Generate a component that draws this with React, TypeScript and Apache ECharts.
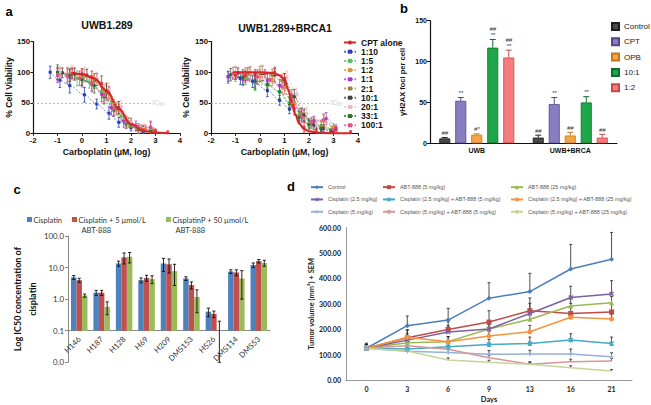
import React, { useEffect, useRef } from "react";
import * as echarts from "echarts";

const FONT = "'Liberation Sans', Arial, sans-serif";
const FONT_CD = "Lato, 'Liberation Sans', sans-serif";

// ===== Panel a: dose-response (x = log carboplatin µM, y = % cell viability) =====
const A_RATIOS = ["1:10", "1:5", "1:2", "1:1", "2:1", "10:1", "20:1", "33:1", "100:1"];
const A_CPT = "CPT alone";
const IC50_LEVEL = 50;
const IC50_X_START = -2;
const IC50_X_END = 2.8;

// UWB1.289
const AL_X = [
  [-1.3, -0.9, -0.5, 0.1, 0.6, 1.1, 1.5, 2.0, 2.5],
  [-1.0, -0.6, -0.2, 0.3, 0.8, 1.2, 1.6, 2.0, 2.5],
  [-1.0, -0.5, 0.0, 0.5, 0.9, 1.3, 1.8, 2.2, 2.6],
  [-1.0, -0.5, 0.0, 0.4, 0.8, 1.2, 1.7, 2.2, 2.8],
  [-0.9, -0.4, 0.1, 0.5, 1.0, 1.4, 1.9, 2.4, 2.9],
  [-0.8, -0.3, 0.2, 0.6, 1.0, 1.5, 2.0, 2.5, 3.0],
  [-0.9, -0.4, 0.1, 0.6, 1.1, 1.6, 2.0, 2.5, 3.0],
  [-1.0, -0.5, 0.0, 0.5, 0.9, 1.3, 1.8, 2.3, 2.8],
  [-1.0, -0.6, -0.1, 0.4, 0.9, 1.3, 1.8, 2.3, 2.8],
];
const AL_Y = [
  [100, 87, 78, 63, 48, 33, 18, 10, 3],
  [98, 96, 90, 84, 68, 50, 28, 12, 5],
  [97, 97, 92, 85, 70, 45, 20, 10, 8],
  [95, 92, 88, 80, 64, 42, 20, 12, 10],
  [99, 98, 94, 86, 66, 40, 18, 8, 5],
  [99, 97, 95, 88, 70, 42, 16, 6, 3],
  [100, 99, 96, 90, 72, 44, 18, 8, 3],
  [100, 95, 88, 78, 60, 38, 16, 6, 3],
  [96, 94, 90, 82, 62, 40, 18, 8, 10],
];
const AL_ERR = [
  [10, 12, 12, 12, 8, 10, 8, 6, 3],
  [10, 12, 12, 10, 10, 10, 8, 6, 4],
  [8, 10, 12, 12, 10, 10, 8, 6, 6],
  [12, 12, 12, 12, 12, 12, 10, 8, 10],
  [8, 10, 10, 12, 12, 10, 8, 6, 4],
  [8, 10, 10, 10, 12, 10, 8, 6, 3],
  [10, 12, 12, 10, 10, 10, 8, 6, 3],
  [12, 10, 10, 12, 12, 10, 8, 6, 3],
  [10, 12, 12, 12, 12, 12, 10, 8, 8],
];
const ALC_X = [-0.4, 0.0, 0.5, 1.0, 1.5, 2.0, 2.5, 3.0, 3.5];
const ALC_Y = [99, 97, 90, 70, 40, 15, 4, 1, 0];
const ALP_X = [-0.4, 0.0, 0.4, 0.8, 1.1, 1.5, 2.0, 2.5, 3.0, 3.5];
const ALP_Y = [98, 96, 92, 82, 66, 40, 14, 6, 3, 1];
const ALP_ERR = [8, 10, 10, 12, 10, 8, 6, 6, 4, 3];

// UWB1.289+BRCA1
const AR_X = [
  [-1.3, -0.8, -0.3, 0.3, 0.8, 1.2, 1.6, 2.0, 2.5, 2.9],
  [-1.0, -0.6, -0.2, 0.3, 0.8, 1.2, 1.6, 2.0, 2.5, 2.9],
  [-1.0, -0.5, 0.0, 0.5, 1.0, 1.4, 1.8, 2.2, 2.6, 3.0],
  [-1.3, -0.7, -0.2, 0.3, 0.8, 1.3, 1.7, 2.2, 2.7, 3.1],
  [-1.0, -0.5, 0.0, 0.5, 0.9, 1.3, 1.7, 2.1, 2.5, 3.0],
  [-0.9, -0.4, 0.1, 0.6, 1.0, 1.4, 1.8, 2.2, 2.6, 3.0],
  [-1.0, -0.4, 0.1, 0.6, 1.1, 1.5, 1.9, 2.3, 2.7, 3.1],
  [-1.2, -0.7, -0.2, 0.3, 0.8, 1.2, 1.6, 2.0, 2.5, 2.9],
  [-1.1, -0.6, -0.1, 0.4, 0.9, 1.3, 1.7, 2.1, 2.6, 3.0],
];
const AR_Y = [
  [93, 90, 85, 70, 54, 40, 28, 15, 7, 3],
  [97, 90, 82, 78, 68, 50, 30, 16, 12, 6],
  [99, 96, 94, 88, 74, 50, 28, 18, 20, 10],
  [92, 88, 84, 86, 78, 54, 30, 20, 24, 8],
  [98, 98, 98, 95, 86, 60, 32, 16, 12, 5],
  [99, 99, 98, 96, 88, 60, 30, 14, 8, 4],
  [100, 100, 100, 98, 92, 64, 32, 15, 8, 3],
  [96, 92, 86, 80, 68, 48, 26, 14, 8, 4],
  [98, 95, 92, 88, 76, 52, 28, 18, 22, 6],
];
const AR_ERR = [
  [8, 10, 10, 10, 8, 8, 8, 6, 4, 3],
  [12, 10, 12, 10, 12, 10, 10, 8, 8, 6],
  [10, 10, 10, 10, 10, 10, 10, 8, 10, 6],
  [10, 10, 12, 12, 10, 10, 10, 8, 10, 6],
  [10, 10, 12, 10, 10, 12, 10, 8, 8, 4],
  [8, 10, 12, 12, 10, 12, 10, 8, 6, 4],
  [10, 10, 12, 12, 10, 10, 10, 8, 6, 3],
  [10, 12, 12, 10, 12, 10, 10, 8, 6, 4],
  [10, 12, 12, 10, 10, 10, 10, 8, 10, 6],
];
const ARC_X = [-1.1, 0.0, 0.5, 0.8, 1.0, 1.15, 1.3, 1.45, 1.6, 1.8, 2.0, 2.5, 3.0, 3.7];
const ARC_Y = [100, 100, 99, 95, 88, 72, 50, 30, 16, 7, 3, 0.5, 0, 0];
const ARP_X = [-1.0, -0.6, -0.2, 0.2, 0.6, 1.0, 1.4, 1.8, 2.3, 3.1, 3.7];
const ARP_Y = [95, 94, 96, 98, 100, 90, 40, 10, 4, 5, 2];
const ARP_ERR = [6, 8, 8, 6, 6, 8, 10, 8, 4, 6, 2];

// ===== Panel b: γH2AX foci per cell =====
const B_GROUPS = ["UWB", "UWB+BRCA"];
const B_SERIES = ["Control", "CPT", "OPB", "10:1", "1:2"];
const B_VALUES = [
  [6, 7],
  [52, 48],
  [10.5, 9.5],
  [117, 50],
  [105, 7],
];
const B_ERR = [
  [1, 3],
  [4, 8],
  [1, 4],
  [10, 7],
  [9, 4],
];
const B_ANNOT = [
  ["##", "##"],
  ["**", "**"],
  ["#*", "##"],
  ["##\n**", "**"],
  ["##\n**", "##"],
];

// ===== Panel c: IC50 of cisplatin =====
const C_CATS = ["H146", "H187", "H128", "H69", "H209", "DMS153", "H526", "DMS114", "DMS53"];
const C_SERIES = ["Cisplatin", "Cisplatin + 5 µmol/L", "CisplatinP + 50 µmol/L"];
const C_SERIES_LINE2 = ["", "ABT-888", "ABT-888"];
const C_VALUES = [
  [4.9, 1.6, 13.5, 4.0, 13.5, 4.5, 0.4, 7.5, 12],
  [4.0, 1.6, 21, 4.7, 12.7, 2.8, 0.34, 7.0, 16],
  [1.3, 0.57, 22, 4.3, 7.7, 1.17, 0.1, 4.5, 14],
];
const C_ERR = [
  [0.7, 0.3, 2.5, 0.7, 6, 0.6, 0.12, 1.0, 2],
  [0.6, 0.3, 8, 1.0, 6, 0.7, 0.08, 1.5, 2],
  [0.15, 0.25, 8, 1.2, 5, 0.8, 0.1, 3.5, 3],
];
const C_TICK_FLOOR = 0.01;

// ===== Panel d: tumor volume =====
const D_DAYS = ["0", "3", "6", "9", "13", "16", "21"];
const D_SERIES = [
  "Control",
  "ABT-888 (5 mg/kg)",
  "ABT-888 (25 mg/kg)",
  "Cisplatin (2.5 mg/kg)",
  "Cisplatin (2.5 mg/kg) + ABT-888 (5 mg/kg)",
  "Cisplatin (2.5 mg/kg) + ABT-888 (25 mg/kg)",
  "Cisplatin (5 mg/kg)",
  "Cisplatin (5 mg/kg) + ABT-888 (5 mg/kg)",
  "Cisplatin (5 mg/kg) + ABT-888 (25 mg/kg)",
];
const D_VALUES = [
  [125, 214, 236, 322, 348, 437, 475],
  [125, 166, 199, 228, 273, 262, 268],
  [125, 147, 151, 201, 239, 291, 304],
  [125, 157, 189, 201, 262, 325, 339],
  [125, 122, 131, 140, 144, 157, 144],
  [125, 168, 151, 173, 190, 247, 240],
  [125, 113, 108, 101, 102, 102, 92],
  [125, 135, 121, 88, 62, 72, 75],
  [125, 114, 79, 70, 62, 48, 35],
];
const D_ERR = [
  [20, 38, 46, 61, 72, 97, 106],
  [15, 30, 30, 45, 50, 40, 30],
  [15, 25, 20, 20, 25, 30, 25],
  [15, 25, 25, 20, 40, 44, 52],
  [15, 15, 20, 20, 25, 25, 25],
  [15, 30, 20, 20, 25, 20, 20],
  [15, 10, 12, 15, 15, 20, 15],
  [15, 10, 10, 10, 10, 10, 10],
  [15, 5, 8, 8, 6, 8, 6],
];

// ===== Styles =====
const A_COLORS = ["#2a3cb4", "#55c255", "#e09236", "#a03cc8", "#9c8440", "#404040", "#eeb8c8", "#237a28", "#e2508c"];
const A_RED = "#d8262a";
const B_COLORS = ["#4b4848", "#8a7cc0", "#f6a440", "#1ea74a", "#f77c7c"];
const B_BORDERS = ["#1e1e1e", "#55468a", "#c47618", "#0f6e2c", "#c84848"];
const B_BAR_W = 11;
const B_BAR_GAP = 5;
const C_COLORS = ["#4f81bd", "#c0504d", "#9bbb59"];
const C_BAR_W = 5.5;
const C_GRID_H = 126.3;
const D_COLORS = ["#4a7ebb", "#be4b48", "#98b954", "#7d60a0", "#46aac4", "#f59440", "#94b2d6", "#d99694", "#c3d69b"];
const SYM_X = "path://M0,2L2,0L5,3L8,0L10,2L7,5L10,8L8,10L5,7L2,10L0,8L3,5Z";
const SYM_STAR = "path://M0,2L2,0L5,3L8,0L10,2L7,5L10,8L8,10L5,7L2,10L0,8L3,5ZM4,0L6,0L6,10L4,10Z";
const SYM_PLUS = "path://M4,0L6,0L6,4L10,4L10,6L6,6L6,10L4,10L4,6L0,6L0,4L4,4Z";
const D_SYMBOLS = ["diamond", "rect", "triangle", SYM_X, SYM_STAR, "circle", SYM_PLUS, "none", "none"];
const D_LEGEND_LEFT = [310, 382, 510];

const cTf = (v: number) => Math.log10(Math.max(v, C_TICK_FLOOR)) + 1;

function errLines(x: number, yTop: number, yBot: number, color: string, half: number, lw: number, topCap: boolean, botCap: boolean) {
  const style = { stroke: color, lineWidth: lw };
  const ch: any[] = [{ type: "line", shape: { x1: x, y1: yTop, x2: x, y2: yBot }, style }];
  if (topCap) ch.push({ type: "line", shape: { x1: x - half, y1: yTop, x2: x + half, y2: yTop }, style });
  if (botCap) ch.push({ type: "line", shape: { x1: x - half, y1: yBot, x2: x + half, y2: yBot }, style });
  return ch;
}

function buildOption() {
  const txt = (size: number, weight: any = "bold", family = FONT, color = "#111") => ({
    fontFamily: family,
    fontSize: size,
    fontWeight: weight,
    color,
  });

  const aX = (gi: number) => ({
    type: "value",
    gridIndex: gi,
    min: -2,
    max: 4,
    interval: 1,
    name: "Carboplatin (µM, log)",
    nameLocation: "middle",
    nameGap: 14,
    nameTextStyle: txt(8.8),
    axisLine: { show: true, onZero: false, lineStyle: { color: "#111", width: 1.2 } },
    axisTick: { show: true, length: 2.5, lineStyle: { color: "#111", width: 1 } },
    axisLabel: { ...txt(7.8), margin: 3 },
    splitLine: { show: false },
  });
  const aY = (gi: number, gap: number) => ({
    type: "value",
    gridIndex: gi,
    min: 0,
    max: 150,
    interval: 50,
    name: "% Cell Viability",
    nameLocation: "middle",
    nameGap: gap,
    nameTextStyle: txt(8.5),
    axisLine: { show: true, onZero: false, lineStyle: { color: "#111", width: 1.2 } },
    axisTick: { show: true, length: 2.5, lineStyle: { color: "#111", width: 1 } },
    axisLabel: { ...txt(7.8), margin: 3 },
    splitLine: { show: false },
  });

  const series: any[] = [];

  // ---- panel a
  const aPanels = [
    { X: AL_X, Y: AL_Y, E: AL_ERR, CX: ALC_X, CY: ALC_Y, PX: ALP_X, PY: ALP_Y, PE: ALP_ERR },
    { X: AR_X, Y: AR_Y, E: AR_ERR, CX: ARC_X, CY: ARC_Y, PX: ARP_X, PY: ARP_Y, PE: ARP_ERR },
  ];
  aPanels.forEach((p, gi) => {
    const errData: number[][] = [];
    A_RATIOS.forEach((_, k) => p.X[k].forEach((x, i) => errData.push([x, p.Y[k][i], p.E[k][i], k])));
    p.PX.forEach((x, i) => errData.push([x, p.PY[i], p.PE[i], 9]));
    series.push({
      type: "custom",
      name: "err-a" + gi,
      xAxisIndex: gi,
      yAxisIndex: gi,
      silent: true,
      z: 2,
      encode: { x: 0, y: 1 },
      data: errData,
      renderItem: (params: any, api: any) => {
        const x = api.value(0), y = api.value(1), e = api.value(2), ci = api.value(3);
        const t = api.coord([x, Math.min(150, y + e)]);
        const b = api.coord([x, Math.max(0, y - e)]);
        const c = ci < 9 ? A_COLORS[ci] : A_RED;
        return { type: "group", children: errLines(t[0], t[1], b[1], c, 1.3, 0.8, true, true) };
      },
    });
    A_RATIOS.forEach((name, k) => {
      series.push({
        type: "line",
        name,
        xAxisIndex: gi,
        yAxisIndex: gi,
        silent: true,
        z: 3,
        smooth: 0.35,
        smoothMonotone: "x",
        symbol: "rect",
        symbolSize: 3,
        data: p.X[k].map((x, i) => [x, p.Y[k][i]]),
        lineStyle: { color: A_COLORS[k], width: 0.8, type: [2, 1.5], opacity: 0.75 },
        itemStyle: { color: A_COLORS[k] },
      });
    });
    series.push({
      type: "line",
      name: A_CPT,
      xAxisIndex: gi,
      yAxisIndex: gi,
      silent: true,
      z: 4,
      smooth: 0.4,
      smoothMonotone: "x",
      symbol: "none",
      data: p.CX.map((x, i) => [x, p.CY[i]]),
      lineStyle: { color: A_RED, width: 2.2 },
      itemStyle: { color: A_RED },
      markLine: {
        silent: true,
        symbol: "none",
        lineStyle: { color: "#aaaaaa", type: [2, 2], width: 0.8 },
        label: {
          show: true,
          position: "end",
          distance: 2,
          formatter: "IC{s|50}",
          fontFamily: FONT,
          fontSize: 6.5,
          color: "#cccccc",
          rich: { s: { fontSize: 4.5, color: "#cccccc", padding: [4, 0, 0, 0] } },
        },
        data: [[{ coord: [IC50_X_START, IC50_LEVEL] }, { coord: [IC50_X_END, IC50_LEVEL] }]],
      },
    });
    series.push({
      type: "scatter",
      name: "CPT alone points",
      xAxisIndex: gi,
      yAxisIndex: gi,
      silent: true,
      z: 4,
      symbol: "rect",
      symbolSize: 3,
      data: p.PX.map((x, i) => [x, p.PY[i]]),
      itemStyle: { color: A_RED },
    });
  });

  // ---- panel b
  B_SERIES.forEach((name, s) => {
    series.push({
      type: "bar",
      name: "b:" + name,
      xAxisIndex: 2,
      yAxisIndex: 2,
      silent: true,
      barWidth: B_BAR_W,
      barGap: (B_BAR_GAP / B_BAR_W) * 100 + "%",
      data: B_VALUES[s],
      itemStyle: { color: B_COLORS[s], borderColor: B_BORDERS[s], borderWidth: 0.8 },
    });
  });
  B_SERIES.forEach((name, s) => {
    series.push({
      type: "custom",
      name: "err-b" + s,
      xAxisIndex: 2,
      yAxisIndex: 2,
      silent: true,
      z: 5,
      encode: { x: 0, y: 1 },
      data: B_GROUPS.map((_, gi) => [gi, B_VALUES[s][gi], B_ERR[s][gi]]),
      renderItem: (params: any, api: any) => {
        const gi = api.value(0), v = api.value(1), e = api.value(2);
        const base = api.coord([gi, v]);
        const top = api.coord([gi, v + e]);
        const x = base[0] + (s - 2) * (B_BAR_W + B_BAR_GAP);
        const ch = errLines(x, top[1], base[1], B_BORDERS[s], 3, 1, true, false);
        ch.push({
          type: "text",
          x,
          y: top[1] - 1.5,
          style: {
            text: B_ANNOT[s][params.dataIndex],
            align: "center",
            verticalAlign: "bottom",
            fontFamily: FONT,
            fontSize: 6,
            fontStyle: "italic",
            lineHeight: 6,
            fill: "#333",
          },
        });
        return { type: "group", children: ch };
      },
    });
  });

  // ---- panel c
  C_SERIES.forEach((name, s) => {
    series.push({
      type: "bar",
      name,
      xAxisIndex: 3,
      yAxisIndex: 3,
      silent: true,
      barWidth: C_BAR_W,
      barGap: "0%",
      data: C_VALUES[s].map(cTf),
      itemStyle: { color: C_COLORS[s] },
    });
  });
  C_SERIES.forEach((name, s) => {
    series.push({
      type: "custom",
      name: "err-c" + s,
      xAxisIndex: 3,
      yAxisIndex: 3,
      silent: true,
      z: 5,
      encode: { x: 0, y: 1 },
      data: C_CATS.map((_, ci) => [ci, C_VALUES[s][ci], C_ERR[s][ci]]),
      renderItem: (params: any, api: any) => {
        const ci = api.value(0), v = api.value(1), e = api.value(2);
        const top = api.coord([ci, cTf(v + e)]);
        const bot = api.coord([ci, cTf(v - e)]);
        const x = top[0] + (s - 1) * C_BAR_W;
        return { type: "group", children: errLines(x, top[1], bot[1], "#111", 1.6, 0.9, true, true) };
      },
    });
  });

  // ---- panel d
  D_SERIES.forEach((name, k) => {
    series.push({
      type: "line",
      name: "d:" + name,
      xAxisIndex: 4,
      yAxisIndex: 4,
      silent: true,
      z: 3,
      symbol: D_SYMBOLS[k],
      symbolSize: 5,
      data: D_VALUES[k],
      lineStyle: { color: D_COLORS[k], width: 1.5 },
      itemStyle: { color: D_COLORS[k] },
    });
  });
  D_SERIES.forEach((name, k) => {
    series.push({
      type: "custom",
      name: "err-d" + k,
      xAxisIndex: 4,
      yAxisIndex: 4,
      silent: true,
      z: 2,
      encode: { x: 0, y: 1 },
      data: D_DAYS.map((_, di) => [di, D_VALUES[k][di], D_ERR[k][di]]),
      renderItem: (params: any, api: any) => {
        const di = api.value(0), v = api.value(1), e = api.value(2);
        const base = api.coord([di, v]);
        const top = api.coord([di, v + e]);
        return { type: "group", children: errLines(base[0], top[1], base[1], "#222", 1.5, 0.8, true, false) };
      },
    });
  });

  const graphic: any[] = [];
  const letter = (t: string, x: number, y: number) =>
    graphic.push({ type: "text", x, y, style: { text: t, fontFamily: FONT, fontWeight: "bold", fontSize: 13, fill: "#000", align: "center", verticalAlign: "middle" } });
  letter("a", 9, 11);
  letter("b", 404, 8);
  letter("c", 17, 189);
  letter("d", 291, 186);
  graphic.push({ type: "text", x: 107, y: 25, style: { text: "UWB1.289", fontFamily: FONT, fontWeight: "bold", fontSize: 10.5, fill: "#111", align: "center", verticalAlign: "middle" } });
  graphic.push({ type: "text", x: 285, y: 28, style: { text: "UWB1.289+BRCA1", fontFamily: FONT, fontWeight: "bold", fontSize: 10.5, fill: "#111", align: "center", verticalAlign: "middle" } });
  const cLegendLeft = [27, 72, 166];
  C_SERIES.forEach((name, s) => {
    const x = cLegendLeft[s];
    graphic.push({ type: "rect", shape: { x, y: 217, width: 5, height: 5 }, style: { fill: C_COLORS[s] } });
    graphic.push({ type: "text", x: x + 6.5, y: 220, style: { text: name, fontFamily: FONT_CD, fontSize: 7.5, fill: "#333", verticalAlign: "middle" } });
    if (C_SERIES_LINE2[s])
      graphic.push({ type: "text", x: x + 9.5, y: 230.5, style: { text: C_SERIES_LINE2[s], fontFamily: FONT_CD, fontSize: 7.5, fill: "#333", verticalAlign: "middle" } });
  });

  const legends: any[] = [
    {
      data: [A_CPT, ...A_RATIOS],
      left: 343,
      top: 38,
      orient: "vertical",
      padding: 0,
      itemWidth: 12,
      itemHeight: 5,
      itemGap: 0.2,
      selectedMode: false,
      textStyle: { ...txt(8.5), lineHeight: 7 },
    },
    {
      data: B_SERIES.map((n) => "b:" + n),
      left: 611,
      top: 22,
      orient: "vertical",
      padding: 0,
      icon: "rect",
      itemWidth: 7,
      itemHeight: 7,
      itemGap: 6.3,
      selectedMode: false,
      formatter: (n: string) => n.slice(2),
      textStyle: { ...txt(8, "normal", FONT, "#222"), lineHeight: 7.7 },
    },
    ...D_LEGEND_LEFT.map((left, col) => ({
      data: D_SERIES.filter((_, k) => k % 3 === col).map((n) => "d:" + n),
      left,
      top: 184,
      orient: "vertical",
      padding: 0,
      itemWidth: 12,
      itemHeight: 5,
      itemGap: 6,
      selectedMode: false,
      formatter: (n: string) => n.slice(2),
      textStyle: { ...txt(5.4, "normal", FONT, "#555"), lineHeight: 6.3 },
    })),
  ];

  return {
    animation: false,
    backgroundColor: "#fff",
    textStyle: { fontFamily: FONT },
    grid: [
      { left: 33, top: 41.7, width: 147, height: 91.6 },
      { left: 211, top: 41.7, width: 147, height: 91.6 },
      { left: 430, top: 20.7, width: 187, height: 122.6 },
      { left: 68, top: 236, width: 202, height: C_GRID_H },
      { left: 346, top: 227.6, width: 286, height: 152.4 },
    ].map((g) => ({ ...g, outerBoundsMode: "none", containLabel: false })),
    xAxis: [
      aX(0),
      aX(1),
      {
        type: "category",
        gridIndex: 2,
        data: B_GROUPS,
        axisLine: { show: true, lineStyle: { color: "#111", width: 1.2 } },
        axisTick: { show: false },
        axisLabel: { ...txt(7), margin: 4 },
        splitLine: { show: false },
      },
      {
        type: "category",
        gridIndex: 3,
        data: C_CATS,
        position: "bottom",
        offset: -C_GRID_H / 4,
        axisLine: { show: true, onZero: false, lineStyle: { color: "#888", width: 1 } },
        axisTick: { show: false },
        axisLabel: { ...txt(7.8, "normal", FONT_CD, "#333"), rotate: 45, margin: 7, interval: 0 },
        splitLine: { show: false },
      },
      {
        type: "category",
        gridIndex: 4,
        data: D_DAYS,
        name: "Days",
        nameLocation: "middle",
        nameGap: 15,
        nameTextStyle: txt(7.5, "bold", FONT_CD, "#222"),
        axisLine: { show: true, lineStyle: { color: "#999", width: 1 } },
        axisTick: { show: false },
        axisLabel: { ...txt(7, "bold", FONT_CD, "#222"), margin: 5 },
        splitLine: { show: false },
      },
    ],
    yAxis: [
      aY(0, 18),
      aY(1, 21),
      {
        type: "value",
        gridIndex: 2,
        min: 0,
        max: 150,
        interval: 50,
        name: "γH2AX foci per cell",
        nameLocation: "middle",
        nameGap: 24,
        nameTextStyle: txt(7.5),
        axisLine: { show: true, lineStyle: { color: "#111", width: 1.2 } },
        axisTick: { show: true, length: 3, lineStyle: { color: "#111" } },
        axisLabel: { ...txt(7), margin: 3 },
        splitLine: { show: false },
      },
      {
        type: "value",
        gridIndex: 3,
        min: -1,
        max: 3,
        interval: 1,
        name: "Log IC50 concentration of\ncisplatin",
        nameLocation: "middle",
        nameGap: 22,
        nameTextStyle: { ...txt(9, "bold", FONT_CD, "#111"), lineHeight: 15 },
        axisLine: { show: true, lineStyle: { color: "#888", width: 1 } },
        axisTick: { show: true, length: 3, lineStyle: { color: "#888" } },
        axisLabel: {
          ...txt(7.8, "normal", FONT_CD, "#333"),
          margin: 4,
          formatter: (v: number) => Math.pow(10, v - 1).toFixed(1),
        },
        splitLine: { show: false },
      },
      {
        type: "value",
        gridIndex: 4,
        min: 0,
        max: 600,
        interval: 100,
        name: "Tumor volume (mm³) + SEM",
        nameLocation: "middle",
        nameGap: 30,
        nameTextStyle: txt(7.5, "bold", FONT_CD, "#222"),
        axisLine: { show: true, lineStyle: { color: "#999", width: 1 } },
        axisTick: { show: false },
        axisLabel: { ...txt(7, "bold", FONT_CD, "#222"), margin: 5, formatter: (v: number) => v.toFixed(2) },
        splitLine: { show: false },
      },
    ],
    legend: legends,
    graphic,
    series,
  };
}

export default function App() {
  const ref = useRef<HTMLDivElement>(null);
  useEffect(() => {
    if (!ref.current) return;
    const chart = echarts.init(ref.current, null, { renderer: "svg" });
    chart.setOption(buildOption() as any);
    return () => chart.dispose();
  }, []);
  return (
    <div
      ref={ref}
      style={{ position: "fixed", left: 0, top: 0, width: 651, height: 405, background: "#fff" }}
    />
  );
}
